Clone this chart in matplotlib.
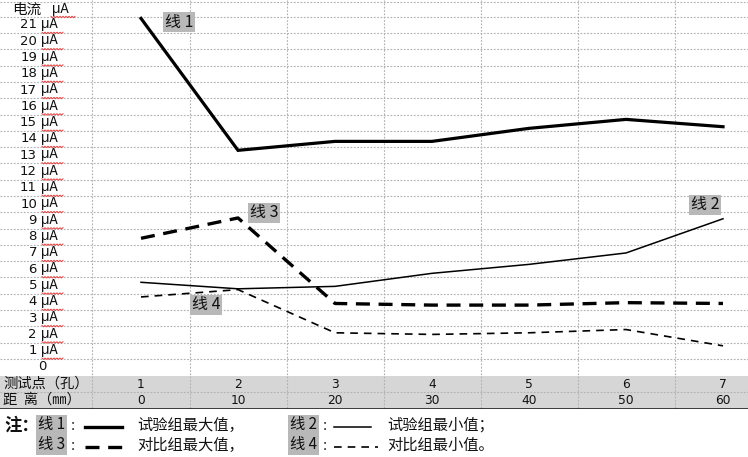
import numpy as np
import matplotlib
matplotlib.use("Agg")
import matplotlib.pyplot as plt

plt.rcParams['font.family'] = ['Noto Sans CJK SC', 'DejaVu Sans']

# ---------------- data ----------------
points = [1, 2, 3, 4, 5, 6, 7]                 # 测试点（孔）
distances = [0, 10, 20, 30, 40, 50, 60]        # 距离（mm）
y_ticks = list(range(21, 0, -1))               # 电流 μA
line1 = [21.4, 13.3, 13.85, 13.85, 14.65, 15.2, 14.75]   # 试验组最大值
line2 = [5.2, 4.8, 4.95, 5.75, 6.3, 7.0, 9.1]            # 试验组最小值
line3 = [7.9, 9.15, 3.9, 3.8, 3.8, 3.95, 3.9]            # 对比组最大值
line4 = [4.3, 4.75, 2.1, 2.0, 2.1, 2.3, 1.3]             # 对比组最小值
line_labels = ["线 1", "线 2", "线 3", "线 4"]
legend_text = ["试验组最大值，", "试验组最小值；", "对比组最大值，", "对比组最小值。"]
row_names = ["测试点（孔）", "距  离（㎜）"]

W, H = 748, 457
fig = plt.figure(figsize=(W / 100, H / 100), dpi=100)

XC, XS = 141.0, 97.0
YC, YS = 367.0, 16.29
def xd(px):
    return 1 + (px - XC) / XS
def yd(py):
    return (YC - py) / YS

bottom_px = 409
ax = fig.add_axes([0, (H - bottom_px) / H, 1, bottom_px / H])
ax.set_xlim(xd(0), xd(W))
ax.set_ylim(yd(bottom_px), yd(0))
ax.axis('off')

grid_kw = dict(color='#b2b2b2', lw=0.8, linestyle=(0, (1.6, 1.4)), zorder=1)

ax.axhspan(yd(408), yd(376), color='#d6d6d6', zorder=0, lw=0)
for k in range(0, 22):
    ax.axhline(k + 0.5, **grid_kw)
ax.axhline(yd(2), **grid_kw)
ax.axhline(yd(392), **grid_kw)
for k in range(7):
    ax.plot([k + 0.5, k + 0.5], [yd(408), yd(0)], **grid_kw)
ax.axhline(yd(408.5), color='black', lw=1.8, zorder=3)

def wavy(x0, x1, py):
    xs = np.arange(x0, x1 + 0.01, 1.5)
    ys = py + np.where(np.arange(len(xs)) % 2 == 0, -0.7, 0.7)
    ax.plot(xd(xs), yd(ys), color='#e84040', lw=0.7, zorder=4)

mu_font = 'Liberation Mono'
for v in y_ticks:
    ax.text(xd(37), v, str(v), ha='right', va='center', fontsize=9.5,
            family='DejaVu Sans', color='#111111')
    ax.text(xd(41), v + 0.05, "µA", ha='left', va='center', fontsize=10,
            family=mu_font, color='#111111')
    wavy(42, 64, YC - YS * v + 8)
ax.text(xd(42), 0, "0", ha='center', va='center', fontsize=9.5,
        family='DejaVu Sans', color='#111111')
ax.text(xd(12), yd(9.5), "电流", ha='left', va='center', fontsize=10.5, color='#111111')
ax.text(xd(52), yd(9.5), "µA", ha='left', va='center', fontsize=10,
        family=mu_font, color='#111111')
wavy(51, 75, 17)

ax.text(xd(3), yd(384), row_names[0], ha='left', va='center', fontsize=10.3, color='#111111')
ax.text(xd(3), yd(400), row_names[1], ha='left', va='center', fontsize=10.3, color='#111111')
for p, d in zip(points, distances):
    ax.text(p, yd(384), str(p), ha='center', va='center', fontsize=8.8,
            family='DejaVu Sans', color='#111111')
    ax.text(p, yd(400), str(d), ha='center', va='center', fontsize=8.8,
            family='DejaVu Sans', color='#111111')

ax.plot(points, line1, color='black', lw=2.3, zorder=5, solid_joinstyle='miter')
ax.plot(points, line2, color='black', lw=1.1, zorder=5)
l3, = ax.plot(points, line3, color='black', lw=2.4, zorder=5)
l3.set_dashes((4.2, 2.6))
l4, = ax.plot(points, line4, color='black', lw=1.2, zorder=5)
l4.set_dashes((4.6, 3.6))

box = dict(boxstyle='square,pad=0.12', fc='#b8b8b8', ec='none')
ann_pos = [(179, 22), (705, 205), (264, 213), (206, 305)]
for lab, (px, py) in zip(line_labels, ann_pos):
    ax.text(xd(px), yd(py), lab, ha='center', va='center', fontsize=11.5,
            color='#111111', bbox=box, zorder=6)

lax = fig.add_axes([0, 0, 1, 1])
lax.set_xlim(0, W)
lax.set_ylim(H, 0)
lax.axis('off')
lax.patch.set_alpha(0)

lax.text(4, 426, "注：", ha='left', va='center', fontsize=12.5, fontweight='bold', color='#111111')
lbox = dict(boxstyle='square,pad=0.1', fc='#b8b8b8', ec='none')
leg_items = [
    (38, 425, 0, 85, 122, 137, dict(lw=2.4), None),
    (290, 425, 1, 334, 371, 387, dict(lw=1.1), None),
    (38, 445, 2, 85, 126, 137, dict(lw=2.4), (4.2, 2.6)),
    (290, 445, 3, 334, 378, 387, dict(lw=1.2), (4.6, 3.6)),
]
for bx, by, i, lx0, lx1, tx, lkw, dash in leg_items:
    lax.text(bx, by, line_labels[i], ha='left', va='center',
             fontsize=11, color='#111111', bbox=lbox)
    lax.text(bx + 32, by + 1, "：", ha='left', va='center', fontsize=9, color='#111111')
    ln, = lax.plot([lx0, lx1], [by + 2, by + 2], color='black', **lkw)
    if dash is not None:
        ln.set_dashes(dash)
    lax.text(tx, by, legend_text[i], ha='left', va='center', fontsize=11, color='#111111')

fig.savefig("out.png", dpi=100)
